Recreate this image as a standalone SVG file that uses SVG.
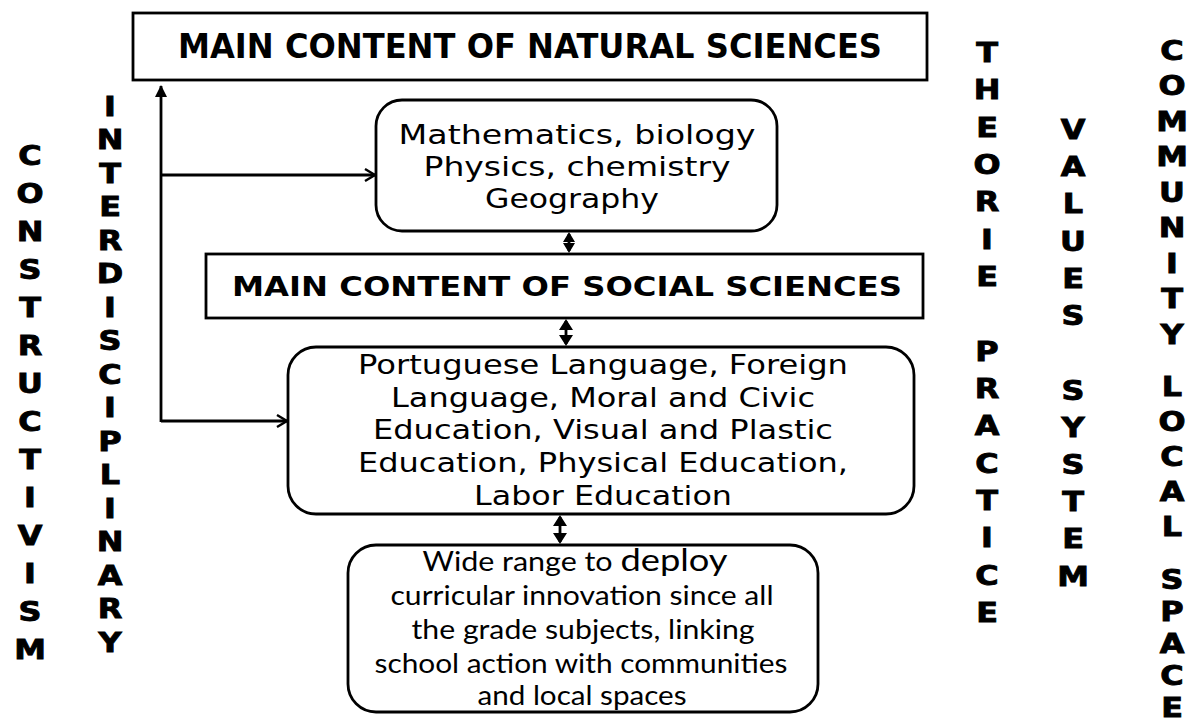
<svg xmlns="http://www.w3.org/2000/svg" width="1189" height="728" viewBox="0 0 1189 728">
<defs>
<style>
.box{fill:#fff;stroke:#000;stroke-width:2.8}
.hb{font-family:"DejaVu Sans",Verdana,sans-serif;font-weight:bold;fill:#000;text-anchor:middle}
.tx{font-family:"DejaVu Sans",Verdana,sans-serif;font-size:27px;fill:#000;text-anchor:middle}
.cx{font-family:Lato,"Open Sans",sans-serif;font-size:26px;fill:#000;text-anchor:middle}
.col text{font-family:"DejaVu Sans",Verdana,sans-serif;font-weight:bold;font-size:27px;fill:#000;stroke:#000;stroke-width:0.9;text-anchor:middle}
.ln{fill:none;stroke:#000;stroke-width:2.8}
.hd{fill:#000}
</style>
<marker id="open" markerWidth="14" markerHeight="14" refX="11" refY="7" orient="auto" markerUnits="userSpaceOnUse">
<path d="M1,1 L11,7 L1,13" fill="none" stroke="#000" stroke-width="2.4"/>
</marker>
<marker id="tri" markerWidth="12" markerHeight="14" refX="11" refY="6" orient="auto" markerUnits="userSpaceOnUse">
<path d="M0,0 L12,6 L0,12 Z" fill="#000"/>
</marker>
</defs>
<rect width="1189" height="728" fill="#fff"/>

<g id="connectors">
<line class="ln" x1="161" y1="422" x2="161" y2="86" marker-end="url(#tri)"/>
<line class="ln" x1="161" y1="175" x2="375" y2="175" marker-end="url(#open)"/>
<line class="ln" x1="161" y1="421" x2="287" y2="421" marker-end="url(#open)"/>
<line class="ln" x1="569" y1="234" x2="569" y2="251"/>
<path class="hd" d="M569,232 L575,242 L563,242 Z M569,253 L575,243 L563,243 Z"/>
<line class="ln" x1="566" y1="321" x2="566" y2="344"/>
<path class="hd" d="M566,319 L573,330 L559,330 Z M566,346 L573,335 L559,335 Z"/>
<line class="ln" x1="560" y1="517" x2="560" y2="542"/>
<path class="hd" d="M560,515 L567,526 L553,526 Z M560,544 L567,533 L553,533 Z"/>
</g>

<g id="natural">
<rect class="box" x="133" y="13" width="794" height="67"/>
<text class="hb" x="530" y="58" font-size="33" textLength="704" lengthAdjust="spacingAndGlyphs">MAIN CONTENT OF NATURAL SCIENCES</text>
</g>

<g id="natural-subjects">
<rect class="box" x="376" y="100" width="401" height="131" rx="26"/>
<text class="tx" x="577" y="144" textLength="357" lengthAdjust="spacingAndGlyphs">Mathematics, biology</text>
<text class="tx" x="577" y="176" textLength="307" lengthAdjust="spacingAndGlyphs">Physics, chemistry</text>
<text class="tx" x="572" y="208" textLength="174" lengthAdjust="spacingAndGlyphs">Geography</text>
</g>

<g id="social">
<rect class="box" x="206" y="254" width="717" height="64"/>
<text class="hb" x="567" y="296" font-size="27" textLength="670" lengthAdjust="spacingAndGlyphs">MAIN CONTENT OF SOCIAL SCIENCES</text>
</g>

<g id="social-subjects">
<rect class="box" x="288" y="347" width="626" height="167" rx="28"/>
<text class="tx" x="603" y="374" textLength="490" lengthAdjust="spacingAndGlyphs">Portuguese Language, Foreign</text>
<text class="tx" x="603" y="407" textLength="424" lengthAdjust="spacingAndGlyphs">Language, Moral and Civic</text>
<text class="tx" x="603" y="439" textLength="460" lengthAdjust="spacingAndGlyphs">Education, Visual and Plastic</text>
<text class="tx" x="603" y="472" textLength="490" lengthAdjust="spacingAndGlyphs">Education, Physical Education,</text>
<text class="tx" x="603" y="505" textLength="258" lengthAdjust="spacingAndGlyphs">Labor Education</text>
</g>

<g id="innovation">
<rect class="box" x="348" y="545" width="470" height="167" rx="28"/>
<text class="cx" x="575" y="571" textLength="305" lengthAdjust="spacingAndGlyphs">Wide range to <tspan font-size="31">deploy</tspan></text>
<text class="cx" x="582" y="605" textLength="383" lengthAdjust="spacingAndGlyphs">curricular innovation since all</text>
<text class="cx" x="583" y="639" textLength="343" lengthAdjust="spacingAndGlyphs">the grade subjects, linking</text>
<text class="cx" x="581" y="673" textLength="413" lengthAdjust="spacingAndGlyphs">school action with communities</text>
<text class="cx" x="582" y="705" textLength="209" lengthAdjust="spacingAndGlyphs">and local spaces</text>
</g>

<g id="constructivism" class="col" transform="translate(30,0) scale(1.18,1)">
<text x="0" y="165">C</text>
<text x="0" y="203">O</text>
<text x="0" y="241">N</text>
<text x="0" y="279">S</text>
<text x="0" y="317">T</text>
<text x="0" y="355">R</text>
<text x="0" y="393">U</text>
<text x="0" y="431">C</text>
<text x="0" y="469">T</text>
<text x="0" y="507">I</text>
<text x="0" y="545">V</text>
<text x="0" y="583">I</text>
<text x="0" y="621">S</text>
<text x="0" y="659">M</text>
</g>

<g id="interdisciplinary" class="col" transform="translate(110,0) scale(1.18,1)">
<text x="0" y="116">I</text>
<text x="0" y="149">N</text>
<text x="0" y="183">T</text>
<text x="0" y="216">E</text>
<text x="0" y="250">R</text>
<text x="0" y="283">D</text>
<text x="0" y="317">I</text>
<text x="0" y="350">S</text>
<text x="0" y="384">C</text>
<text x="0" y="417">I</text>
<text x="0" y="451">P</text>
<text x="0" y="484">L</text>
<text x="0" y="518">I</text>
<text x="0" y="551">N</text>
<text x="0" y="585">A</text>
<text x="0" y="618">R</text>
<text x="0" y="652">Y</text>
</g>

<g id="theorie-practice" class="col" transform="translate(987,0) scale(1.18,1)">
<text x="0" y="62">T</text>
<text x="0" y="99">H</text>
<text x="0" y="137">E</text>
<text x="0" y="174">O</text>
<text x="0" y="211">R</text>
<text x="0" y="249">I</text>
<text x="0" y="286">E</text>
<text x="0" y="361">P</text>
<text x="0" y="398">R</text>
<text x="0" y="435">A</text>
<text x="0" y="473">C</text>
<text x="0" y="510">T</text>
<text x="0" y="547">I</text>
<text x="0" y="585">C</text>
<text x="0" y="622">E</text>
</g>

<g id="values-system" class="col" transform="translate(1073,0) scale(1.18,1)">
<text x="0" y="139">V</text>
<text x="0" y="176">A</text>
<text x="0" y="213">L</text>
<text x="0" y="251">U</text>
<text x="0" y="288">E</text>
<text x="0" y="325">S</text>
<text x="0" y="400">S</text>
<text x="0" y="437">Y</text>
<text x="0" y="474">S</text>
<text x="0" y="511">T</text>
<text x="0" y="548">E</text>
<text x="0" y="586">M</text>
</g>

<g id="community-local-space" class="col" transform="translate(1172,0) scale(1.18,1)">
<text x="0" y="60">C</text>
<text x="0" y="95">O</text>
<text x="0" y="131">M</text>
<text x="0" y="166">M</text>
<text x="0" y="202">U</text>
<text x="0" y="237">N</text>
<text x="0" y="273">I</text>
<text x="0" y="308">T</text>
<text x="0" y="344">Y</text>
<text x="0" y="396">L</text>
<text x="0" y="431">O</text>
<text x="0" y="466">C</text>
<text x="0" y="501">A</text>
<text x="0" y="536">L</text>
<text x="0" y="589">S</text>
<text x="0" y="621">P</text>
<text x="0" y="653">A</text>
<text x="0" y="685">C</text>
<text x="0" y="717">E</text>
</g>
</svg>
